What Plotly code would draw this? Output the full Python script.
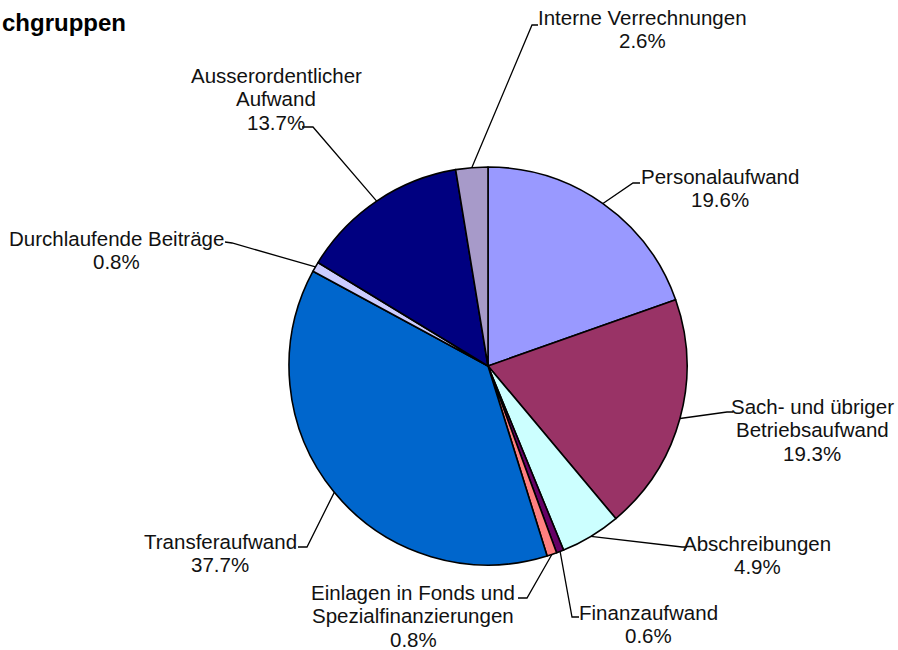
import math
import plotly.graph_objects as go

# data, clockwise from 12 o'clock
labels = ["Personalaufwand", "Sach- und übriger Betriebsaufwand", "Abschreibungen",
          "Finanzaufwand", "Einlagen in Fonds und Spezialfinanzierungen", "Transferaufwand",
          "Durchlaufende Beiträge", "Ausserordentlicher Aufwand", "Interne Verrechnungen"]
values = [19.6, 19.3, 4.9, 0.6, 0.8, 37.7, 0.8, 13.7, 2.6]
label_lines = [["Personalaufwand"], ["Sach- und übriger", "Betriebsaufwand"], ["Abschreibungen"],
               ["Finanzaufwand"], ["Einlagen in Fonds und", "Spezialfinanzierungen"], ["Transferaufwand"],
               ["Durchlaufende Beiträge"], ["Ausserordentlicher", "Aufwand"], ["Interne Verrechnungen"]]
colors = ["#9999FF", "#993366", "#CCFFFF", "#660066", "#FF8080",
          "#0066CC", "#CCCCFF", "#000080", "#A79AC9"]

W, H = 898, 650
CX, CY, R = 488, 366, 199

def px(x):
    return x / W

def py(y):
    return 1 - y / H

# label centre x and first line y (pixels), leader elbow / tick end (pixels)
label_pos = [(720, 176), (812, 406), (757, 543), (648, 612), (413, 592),
             (220, 541), (116, 238), (276, 75), (642, 17)]
LINE = 23.5
elbows = [((633, 183), (640, 183)), ((727, 412), (733, 412)), ((682, 547), (687, 547)),
          ((572, 617), (579, 617)), ((527, 598), (518, 598)), ((307, 547), (298, 547)),
          ((232, 243), (225, 242)), ((313, 127), (302, 127)), ((532, 25), (538, 25))]

fig = go.Figure(go.Pie(
    labels=labels, values=values, sort=False, direction="clockwise", rotation=0,
    marker=dict(colors=colors, line=dict(color="black", width=1.6)),
    textinfo="none", hoverinfo="label+percent",
    domain=dict(x=[px(CX - R), px(CX + R)], y=[py(CY + R), py(CY - R)]),
))

font = dict(family="Liberation Sans, Arial, sans-serif", size=20.5, color="#111111")
total = sum(values)
cum = 0
shapes = []
annotations = []
for i, v in enumerate(values):
    mid = (cum + v / 2) / total * 2 * math.pi
    cum += v
    ex = CX + R * math.sin(mid)
    ey = CY - R * math.cos(mid)
    (bx, by), (tx, ty) = elbows[i]
    path = f"M {px(ex)},{py(ey)} L {px(bx)},{py(by)} L {px(tx)},{py(ty)}"
    shapes.append(dict(type="path", path=path, xref="paper", yref="paper",
                       line=dict(color="black", width=1.3)))
    lx, ly = label_pos[i]
    for k, t in enumerate(label_lines[i] + [f"{v:.1f}%"]):
        annotations.append(dict(text=t, x=px(lx), y=py(ly + k * LINE),
                                xref="paper", yref="paper", xanchor="center", yanchor="middle",
                                showarrow=False, font=font))

annotations.append(dict(text="<b>chgruppen</b>", x=0, y=py(22), xref="paper", yref="paper",
                        xanchor="left", yanchor="middle", showarrow=False,
                        font=dict(family="Liberation Sans, Arial, sans-serif", size=24, color="black")))

fig.update_layout(
    width=W, height=H, showlegend=False,
    margin=dict(l=0, r=0, t=0, b=0),
    paper_bgcolor="white", plot_bgcolor="white",
    shapes=shapes, annotations=annotations,
)

fig.write_html("out.html", config={"displayModeBar": False},
               post_script="document.body.style.margin='0px';")
